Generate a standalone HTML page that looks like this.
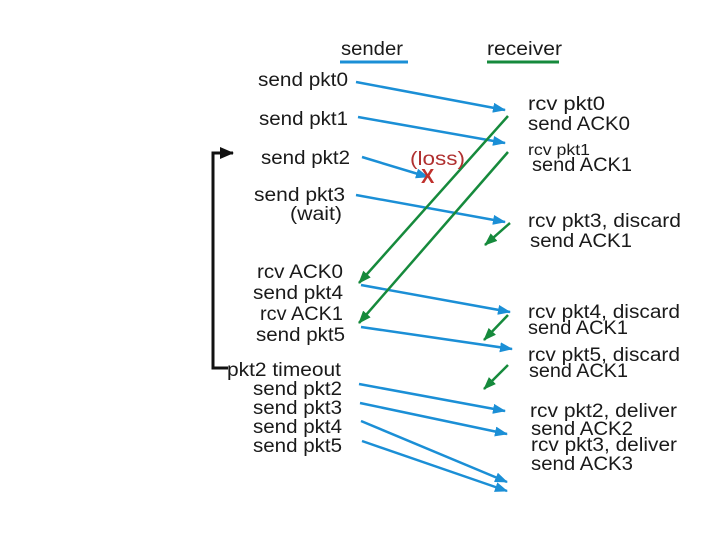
<!DOCTYPE html>
<html><head><meta charset="utf-8"><style>
html,body{margin:0;padding:0;background:#fff;}
svg{display:block;}
text{font-family:"Liberation Sans",sans-serif;font-size:19px;fill:#1a1a1a;}
</style></head><body>
<svg width="720" height="540" viewBox="0 0 720 540" xmlns="http://www.w3.org/2000/svg">
<defs>
<marker id="b" markerWidth="13" markerHeight="10" refX="12" refY="5" orient="auto" markerUnits="userSpaceOnUse"><path d="M0,0 L13,5 L0,10 Z" fill="#1b8fd6"/></marker>
<marker id="g" markerWidth="13" markerHeight="10" refX="12" refY="5" orient="auto" markerUnits="userSpaceOnUse"><path d="M0,0 L13,5 L0,10 Z" fill="#168a3c"/></marker>
<marker id="k" markerWidth="14" markerHeight="12" refX="13" refY="6" orient="auto" markerUnits="userSpaceOnUse"><path d="M0,0 L14,6 L0,12 Z" fill="#111"/></marker>
</defs>
<text x="341" y="55" textLength="62" lengthAdjust="spacingAndGlyphs">sender</text>
<line x1="340" y1="62" x2="408" y2="62" stroke="#1b8fd6" stroke-width="3"/>
<text x="487" y="55" textLength="75" lengthAdjust="spacingAndGlyphs">receiver</text>
<line x1="487" y1="62" x2="559" y2="62" stroke="#168a3c" stroke-width="3"/>
<polyline points="228,368 213,368 213,153 233,153" fill="none" stroke="#111" stroke-width="3" marker-end="url(#k)"/>
<g stroke="#1b8fd6" stroke-width="2.5" marker-end="url(#b)">
<line x1="356" y1="82" x2="505" y2="110"/>
<line x1="358" y1="117" x2="505" y2="143"/>
<line x1="362" y1="157" x2="428" y2="177"/>
<line x1="356" y1="195" x2="505" y2="222"/>
<line x1="361" y1="285" x2="510" y2="312"/>
<line x1="361" y1="327" x2="512" y2="349"/>
<line x1="359" y1="384" x2="505" y2="411"/>
<line x1="360" y1="403" x2="507" y2="434"/>
<line x1="361" y1="421" x2="507" y2="482"/>
<line x1="362" y1="441" x2="507" y2="491"/>
</g>
<g stroke="#168a3c" stroke-width="2.5" marker-end="url(#g)">
<line x1="508" y1="116" x2="359" y2="283"/>
<line x1="508" y1="152" x2="359" y2="323"/>
<line x1="510" y1="223" x2="485" y2="245"/>
<line x1="508" y1="315" x2="484" y2="340"/>
<line x1="508" y1="365" x2="484" y2="389"/>
</g>
<text x="410" y="165" textLength="55" lengthAdjust="spacingAndGlyphs" style="fill:#b03030">(loss)</text>
<text x="421" y="183" style="fill:#c0302c;font-weight:bold;font-size:20px">X</text>
<g>
<text x="258" y="86" textLength="90" lengthAdjust="spacingAndGlyphs">send pkt0</text>
<text x="259" y="125" textLength="89" lengthAdjust="spacingAndGlyphs">send pkt1</text>
<text x="261" y="164" textLength="89" lengthAdjust="spacingAndGlyphs">send pkt2</text>
<text x="254" y="201" textLength="91" lengthAdjust="spacingAndGlyphs">send pkt3</text>
<text x="290" y="220" textLength="52" lengthAdjust="spacingAndGlyphs">(wait)</text>
<text x="257" y="278" textLength="86" lengthAdjust="spacingAndGlyphs">rcv ACK0</text>
<text x="253" y="299" textLength="90" lengthAdjust="spacingAndGlyphs">send pkt4</text>
<text x="260" y="320" textLength="83" lengthAdjust="spacingAndGlyphs">rcv ACK1</text>
<text x="256" y="341" textLength="89" lengthAdjust="spacingAndGlyphs">send pkt5</text>
<text x="227" y="376" textLength="114" lengthAdjust="spacingAndGlyphs">pkt2 timeout</text>
<text x="253" y="395" textLength="89" lengthAdjust="spacingAndGlyphs">send pkt2</text>
<text x="253" y="414" textLength="89" lengthAdjust="spacingAndGlyphs">send pkt3</text>
<text x="253" y="433" textLength="89" lengthAdjust="spacingAndGlyphs">send pkt4</text>
<text x="253" y="452" textLength="89" lengthAdjust="spacingAndGlyphs">send pkt5</text>
<text x="528" y="110" textLength="77" lengthAdjust="spacingAndGlyphs">rcv pkt0</text>
<text x="528" y="130" textLength="102" lengthAdjust="spacingAndGlyphs">send ACK0</text>
<text x="528" y="155" textLength="62" lengthAdjust="spacingAndGlyphs" style="font-size:16px">rcv pkt1</text>
<text x="532" y="171" textLength="100" lengthAdjust="spacingAndGlyphs">send ACK1</text>
<text x="528" y="227" textLength="153" lengthAdjust="spacingAndGlyphs">rcv pkt3, discard</text>
<text x="530" y="247" textLength="102" lengthAdjust="spacingAndGlyphs">send ACK1</text>
<text x="528" y="318" textLength="152" lengthAdjust="spacingAndGlyphs">rcv pkt4, discard</text>
<text x="528" y="334" textLength="100" lengthAdjust="spacingAndGlyphs">send ACK1</text>
<text x="528" y="361" textLength="152" lengthAdjust="spacingAndGlyphs">rcv pkt5, discard</text>
<text x="529" y="377" textLength="99" lengthAdjust="spacingAndGlyphs">send ACK1</text>
<text x="530" y="417" textLength="147" lengthAdjust="spacingAndGlyphs">rcv pkt2, deliver</text>
<text x="531" y="435" textLength="102" lengthAdjust="spacingAndGlyphs">send ACK2</text>
<text x="531" y="451" textLength="146" lengthAdjust="spacingAndGlyphs">rcv pkt3, deliver</text>
<text x="531" y="470" textLength="102" lengthAdjust="spacingAndGlyphs">send ACK3</text>
</g>
</svg>
</body></html>
